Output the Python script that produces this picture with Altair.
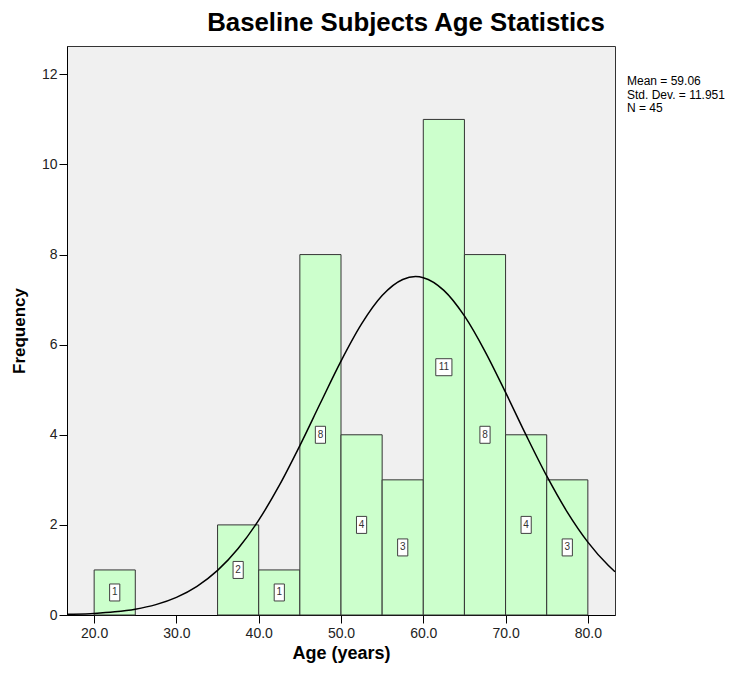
import altair as alt
import pandas as pd

# Histogram bins (years) and frequencies
bin_start = [20, 35, 40, 45, 50, 55, 60, 65, 70, 75]
bin_end = [25, 40, 45, 50, 55, 60, 65, 70, 75, 80]
counts = [1, 2, 1, 8, 4, 3, 11, 8, 4, 3]

# Fitted normal curve
curve_x = [16.7, 17.5, 20, 22.5, 25, 27.5, 30, 32.5, 35, 37.5, 40, 42.5, 45, 47.5,
           50, 52.5, 55, 57.5, 59.06, 60, 62.5, 65, 67.5, 70, 72.5, 75, 77.5, 80, 82.5, 83.3]
curve_y = [0.014, 0.018, 0.036, 0.070, 0.129, 0.230, 0.391, 0.636, 0.990, 1.476, 2.106,
           2.876, 3.760, 4.705, 5.635, 6.460, 7.090, 7.447, 7.511, 7.488, 7.206, 6.638,
           5.853, 4.940, 3.991, 3.086, 2.284, 1.618, 1.097, 0.960]

x_ticks = [20, 30, 40, 50, 60, 70, 80]
y_ticks = [0, 2, 4, 6, 8, 10, 12]
stats_text = ["Mean = 59.06", "Std. Dev. = 11.951", "N = 45"]
title_text = "Baseline Subjects Age Statistics"

bars_df = pd.DataFrame({"start": bin_start, "end": bin_end, "count": counts})
bars_df["mid"] = (bars_df["start"] + bars_df["end"]) / 2
bars_df["half"] = bars_df["count"] / 2
bars_df["zero"] = 0
bars_df["label"] = bars_df["count"].astype(str)
bars_df["digits"] = bars_df["label"].str.len().astype(str)
curve_df = pd.DataFrame({"x": curve_x, "y": curve_y})

FONT = "Liberation Sans"
xscale = alt.Scale(domain=[16.7, 83.3], nice=False, zero=False)
yscale = alt.Scale(domain=[0, 12.63], nice=False)

xaxis = alt.Axis(values=x_ticks, format=".1f", title="Age (years)", grid=False,
                 tickSize=8, labelPadding=3, titlePadding=4,
                 labelFontSize=14, titleFontSize=18, labelFont=FONT, titleFont=FONT,
                 titleFontWeight="bold", labelColor="#222", titleColor="#000",
                 domainColor="#000", tickColor="#000", labelFlush=False)
yaxis = alt.Axis(values=y_ticks, format="d", title="Frequency", grid=False,
                 tickSize=8, labelPadding=2, titlePadding=13,
                 labelFontSize=14, titleFontSize=17, labelFont=FONT, titleFont=FONT,
                 titleFontWeight="bold", labelColor="#222", titleColor="#000",
                 domainColor="#000", tickColor="#000", labelFlush=False)

bars = alt.Chart(bars_df).mark_rect(fill="#ccffcc", stroke="#333333", strokeWidth=1,
                                    opacity=1).encode(
    x=alt.X("start:Q", scale=xscale, axis=xaxis),
    x2="end:Q",
    y=alt.Y("count:Q", scale=yscale, axis=yaxis),
    y2="zero:Q",
)

path1 = "M-0.6,-1L0.6,-1L0.6,1L-0.6,1Z"
path2 = "M-0.95,-1L0.95,-1L0.95,1L-0.95,1Z"
boxes = alt.Chart(bars_df).mark_point(filled=True, fill="white", stroke="#404040",
                                      strokeWidth=1, opacity=1, size=289).encode(
    x=alt.X("mid:Q", scale=xscale),
    y=alt.Y("half:Q", scale=yscale),
    shape=alt.Shape("digits:N", scale=alt.Scale(domain=["1", "2"], range=[path1, path2]),
                    legend=None),
)
labels = alt.Chart(bars_df).mark_text(font=FONT, fontSize=10, color="#333333",
                                      baseline="middle", align="center").encode(
    x=alt.X("mid:Q", scale=xscale),
    y=alt.Y("half:Q", scale=yscale),
    text="label:N",
)

curve = alt.Chart(curve_df).mark_line(color="#000000", strokeWidth=1.5,
                                      interpolate="monotone").encode(
    x=alt.X("x:Q", scale=xscale),
    y=alt.Y("y:Q", scale=yscale),
)

stats = alt.Chart(pd.DataFrame({"t": ["\n".join(stats_text)]})).mark_text(
    font=FONT, fontSize=12, lineHeight=13.5, align="left", baseline="alphabetic",
    color="#000", lineBreak="\n").encode(
    x=alt.value(560), y=alt.value(39), text="t:N")

chart = alt.layer(bars, curve, boxes, labels, stats).properties(
    width=548, height=569,
    title=alt.TitleParams(title_text, font=FONT, fontSize=25.8, fontWeight="bold",
                          anchor="middle", dx=65, offset=9, color="#000"),
    autosize=alt.AutoSizeParams(type="none"),
    padding={"left": 59, "top": 38, "right": 119, "bottom": 50},
    background="white",
).configure_view(fill="#f0f0f0", stroke="#333333", strokeWidth=1)

chart.save("out.html", embed_options={"renderer": "svg", "actions": False})
